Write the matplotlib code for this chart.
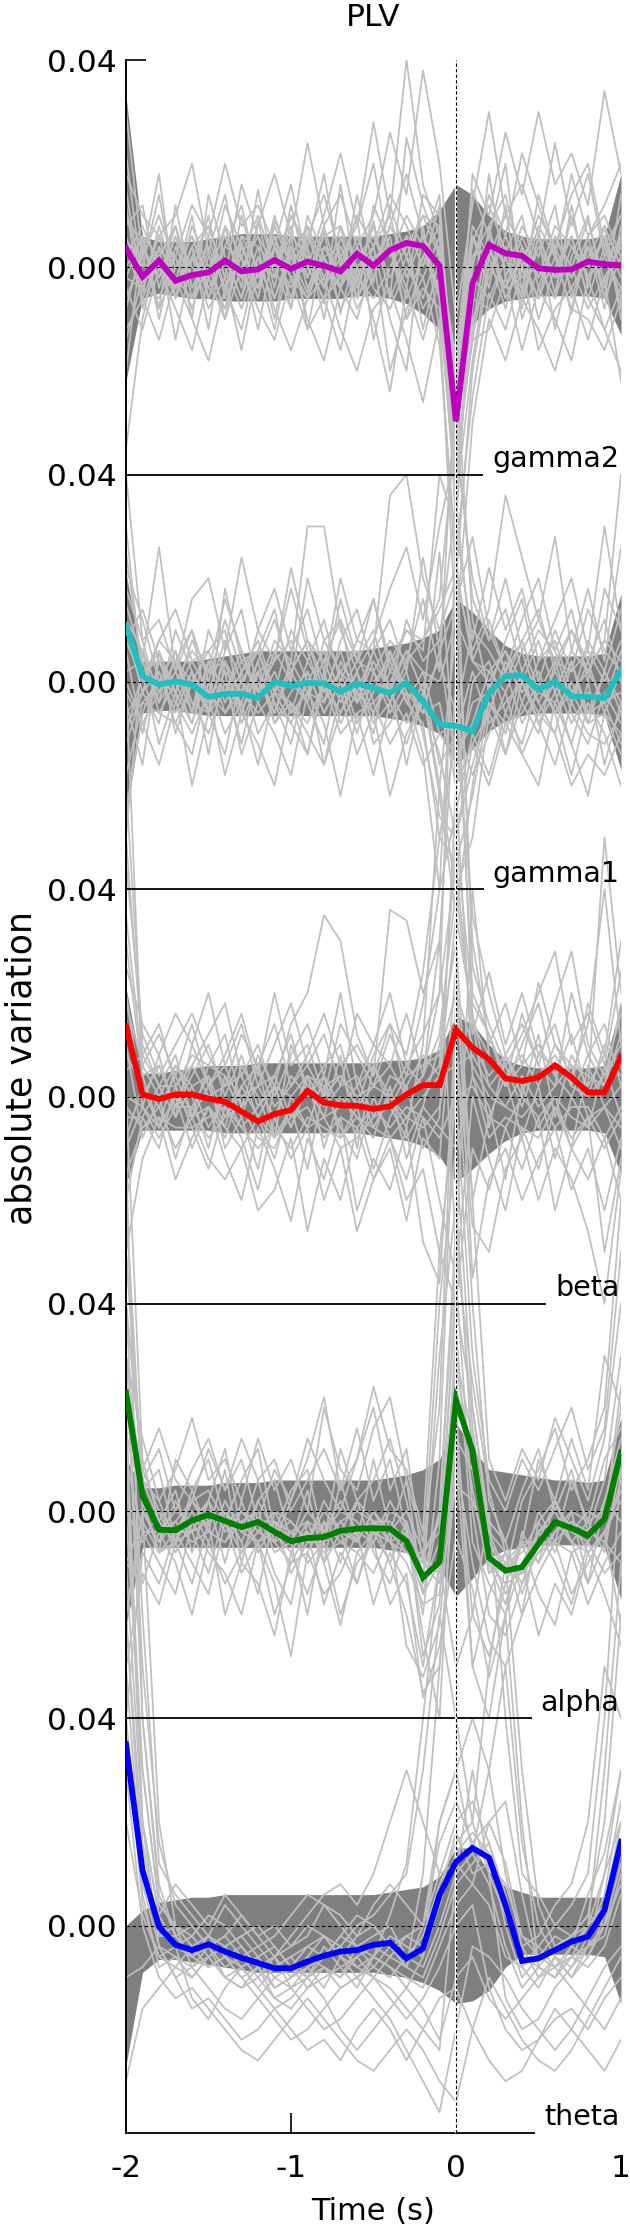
import matplotlib
matplotlib.use('Agg')
import matplotlib.pyplot as plt
import numpy as np

plt.rcParams['font.family'] = ['DejaVu Sans']

# ---------------- data (values in units of 0.001) ----------------
time = np.linspace(-2.0, 1.0, 31)
bands = ['gamma2', 'gamma1', 'beta', 'alpha', 'theta']
colors = ['#bf00bf', '#1fbfbf', '#ff0000', '#007f00', '#0000ff']
ytick_labels = ['0.04', '0.00']
xtick_values = [-2, -1, 0, 1]
xtick_labels = ['-2', '-1', '0', '1']

mean_gamma2 = [3.7, -1.8, 1.3, -2.6, -1.5, -1.0, 1.3, -0.8, -0.4, 1.4, -0.3, 1.1, 0.3, -0.8, 2.6, 0.3,
               3.3, 4.7, 4.1, 0.3, -29.7, -3.1, 4.3, 2.7, 2.2, -0.2, -0.5, -0.4, 1.1, 0.6, 0.4]
mean_gamma1 = [10.9, 1.1, -0.5, 0.1, -0.5, -2.9, -2.3, -2.3, -3.1, 0.0, -0.8, -0.2, -0.3, -1.9, -0.3, -1.2,
               -2.1, -0.2, -3.7, -8.2, -8.5, -9.5, -2.1, 1.1, 1.3, -1.5, 0.1, -2.8, -2.9, -3.1, 2.2]
mean_beta = [13.6, 0.4, -0.5, 0.4, 0.4, -0.4, -1.0, -2.9, -4.8, -3.4, -2.6, 1.1, -1.2, -1.7, -1.8, -2.4,
             -1.9, 0.4, 2.2, 2.2, 12.9, 9.4, 7.2, 3.5, 3.0, 3.7, 6.0, 3.7, 0.8, 0.8, 7.7]
mean_alpha = [22.9, 3.0, -3.6, -3.7, -1.8, -0.7, -1.9, -3.1, -2.1, -4.0, -5.8, -5.2, -5.0, -3.8, -3.4, -3.3,
              -3.4, -5.8, -12.8, -9.8, 21.4, 11.7, -9.0, -11.5, -10.8, -6.3, -2.1, -3.3, -4.7, -1.5, 11.3]
mean_theta = [35.0, 10.7, -0.2, -3.7, -4.7, -3.6, -5.0, -6.2, -7.2, -8.2, -8.2, -6.9, -5.8, -5.0, -4.7, -3.7,
              -3.3, -6.3, -4.4, 5.9, 12.3, 15.0, 13.1, 4.0, -6.8, -6.3, -4.7, -3.1, -2.1, 3.0, 16.2]

upper_gamma2 = [33, 6, 5, 5, 5, 5.5, 6, 6.5, 6.5, 6.5, 6, 6, 6, 6, 6, 6, 6.5, 7, 8, 11, 16, 14, 10, 7, 6, 5.5, 5.5, 5.5, 5.5, 6, 18]
lower_gamma2 = [-22, -6, -5, -5.5, -6, -6, -6.5, -6.5, -6.5, -6.5, -6, -6, -6, -6, -5.5, -5.5, -6, -7, -9, -12, -15, -11, -8, -6.5, -6, -5.5, -5.5, -5.5, -5.5, -6, -13]
upper_gamma1 = [21, 4, 4, 4, 4, 4.5, 5, 5.5, 6, 6, 6, 6, 6, 6, 6, 6.5, 7, 7.5, 8.5, 10, 16, 13.5, 10, 7, 5.5, 5, 5, 5, 5, 5.5, 17]
lower_gamma1 = [-26, -6, -5.5, -5.5, -6, -6.5, -6.5, -6.5, -6.5, -6.5, -6.5, -6.5, -6.5, -6.5, -6.5, -6.5, -7, -7.5, -8.5, -10, -16, -13, -9.5, -7.5, -6.5, -6, -6, -6, -6, -6.5, -17]
upper_beta = [21, 4.5, 4.5, 5, 5.5, 6, 6, 6, 6.5, 6.5, 6.5, 6.5, 6.5, 6.5, 6.5, 6.5, 7, 7, 7.5, 9, 15.5, 14, 10, 7, 6, 5.5, 5.5, 5.5, 5.5, 6, 18]
lower_beta = [-17, -6.5, -6.5, -6.5, -6.5, -6.5, -7, -7, -7, -7, -7, -7, -7, -7, -7, -7.5, -8, -8.5, -9.5, -11.5, -16.5, -14, -11, -8.5, -7, -6.5, -6.5, -6.5, -6.5, -7, -15]
upper_alpha = [10, 4.5, 4.5, 5, 5, 5, 5.5, 5.5, 5.5, 6, 6, 6, 6, 6, 6, 6, 6.5, 7, 8, 10, 17, 12, 8, 7.5, 7, 6.5, 6, 6, 5.5, 6, 18]
lower_alpha = [-22, -7, -7, -7, -7, -7, -7, -7, -7, -7, -7, -7, -7, -7, -7, -7, -7.5, -8, -9, -11, -16.5, -13, -9, -7.5, -7, -6.5, -6.5, -6.5, -6.5, -7, -17]
upper_theta = [0, 3, 4.5, 5, 5.5, 5.5, 6, 6, 6, 6, 6, 6, 6, 6, 6, 6, 6.5, 7, 7.5, 9.5, 15, 15, 10.5, 7.5, 6.5, 5.5, 5.5, 5.5, 5.5, 5.5, 14]
lower_theta = [-27, -9, -6.5, -6.5, -7, -7.5, -8, -8.5, -9, -9, -9, -9, -9, -9, -9, -9, -9.5, -10, -11, -12.5, -15, -14.5, -12.5, -8, -5.5, -5.5, -5.5, -5.5, -5.5, -6, -15]

subjects_gamma2 = [
    [15, -5, 8, -3, 10, -6, 4, 12, -2, 6, -8, 10, 2, -4, 14, 0, 8, 18, 6, -5, -25, 5, 12, 3, 10, -4, 6, 0, 9, -3, 5],
    [-20, 6, -8, 12, -4, 3, -10, 5, -6, 9, 2, -5, 7, -9, 4, -3, 12, 2, 10, 8, -40, -12, 8, -6, 2, 7, -5, 10, -2, 6, -8],
    [30, 2, 18, -6, 4, -12, 8, -4, 15, -2, 10, 3, -7, 16, -3, 9, -6, 25, 12, 3, -18, 15, 6, 20, -5, 14, 3, -9, 6, 12, 20],
    [-35, -10, 4, -14, 2, -8, -2, -16, 0, -12, 4, -10, -18, -4, -10, 2, -20, -8, -2, -15, -55, -25, -5, -12, 0, -16, -8, -4, -14, -2, -22],
    [8, 12, -4, 6, -10, 14, 2, -6, 9, -4, 12, -2, 6, 8, -6, 12, 4, -4, 14, 10, -30, -8, 18, -2, 8, 2, 12, -6, 4, 0, 6],
    [22, -3, 6, 10, 20, 3, 14, -2, 8, 18, 6, 24, 8, 14, 4, 10, 26, 14, 38, 20, -10, 12, 30, 10, 16, 6, 24, 8, 18, 2, 10],
    [-12, -6, -14, -2, -10, -18, -4, -12, 2, -8, -16, -6, -2, -12, -20, -8, -4, -14, -26, -10, -70, -30, -10, -18, -6, -12, -20, -8, -10, -16, -6],
    [5, 2, 10, 0, 6, -2, 12, 4, -4, 10, 0, 6, 14, 2, 8, 20, 2, 10, 4, 14, -35, 0, 14, 6, 22, 12, 2, 18, 6, 10, 2],
    [-8, 4, -2, 8, -6, 6, -4, 2, -12, 4, -6, 8, -4, 2, -8, -2, 6, -10, -4, -8, -45, -18, 2, -8, 4, -10, 0, 6, -6, -12, -4],
    [12, -8, 2, -6, 8, 0, -8, 6, 4, -10, 6, -12, 4, -2, 10, -14, 0, 6, -12, 2, -20, 6, -4, 12, -10, 0, -6, 12, -4, 8, -10],
    [0, 6, -10, 4, -2, 10, -6, 10, -2, 2, -4, 4, -10, 6, -4, 4, -10, -20, 8, -12, -60, -20, 0, 4, -6, 6, -12, 2, 10, -6, 14],
    [18, 10, 6, 2, 12, 6, 20, 8, 12, 4, 16, 0, 10, 22, 8, 28, 10, 40, 16, 6, -28, 18, 10, 26, 14, 30, 16, 22, 12, 34, 18],
    [-4, -12, 0, -8, -16, -2, -10, 0, -8, -14, -2, -12, -6, -16, 0, -10, -24, -4, -14, -2, -38, -14, -12, -2, -16, -4, -10, -18, -2, -12, -20],
    [10, 0, 14, -4, 4, 8, -2, 16, 6, 0, 10, 4, 18, 0, 10, 4, 14, 8, 0, 12, -50, 2, 8, 14, 0, 10, 4, 14, 20, 4, 10],
    [4, -6, 2, 8, -2, 4, -4, 6, 0, -6, 4, -2, 8, -4, 2, 6, -2, 4, 10, 2, -22, -4, 6, 0, -4, 8, 2, -2, 6, -6, 2],
    [-6, 2, -8, 0, 6, -4, 2, -6, 4, 0, -8, 6, -2, 4, -6, 0, 4, -6, 2, -4, -32, -10, -2, 6, -2, 0, -6, 4, -2, 2, -4],
    [2, 8, 0, -4, 2, 8, -2, 0, 6, -6, 2, 8, 0, -4, 6, -2, 8, 2, -2, 6, -26, 2, 4, -4, 6, -2, 4, -4, 2, 8, 0],
    [-2, -4, 4, -2, -6, 0, 6, -2, -4, 4, -2, -6, 2, 4, -2, -6, 0, 6, 4, -6, -42, -6, -8, 2, -6, 4, -2, 0, -8, -2, 4],
    [10, 4, -2, 6, 0, -2, 8, 2, 10, 0, 6, 2, -4, 8, 0, 4, 10, -2, 6, 0, -18, 8, 2, 10, 4, -2, 8, 4, 0, 6, -2],
    [-14, -2, 6, -6, 2, -4, -8, 4, -4, 6, -2, 0, -6, -2, 4, -4, -8, 0, -6, 4, -36, -14, 4, -6, 0, -6, 2, -8, 4, -4, 6],
    [6, -4, -6, 2, -8, 2, 0, -8, 2, -2, 8, -4, 2, -8, -2, 8, -6, 2, -8, -2, -48, -2, -6, 2, -8, 6, -2, 6, -6, 4, -6],
    [-2, 6, 2, -4, 4, -6, 4, 2, -6, 8, 0, -6, 4, 2, -6, 2, 4, -10, 2, 8, -24, 6, 0, -4, 2, -6, 6, -2, 4, -8, 8],
]
subjects_gamma1 = [
    [40, 8, -4, 10, 2, -6, 6, 14, -2, 8, 4, 30, 30, 10, 2, 8, 18, 26, 12, 30, 45, 20, 8, 14, 2, 10, 6, -4, 8, 2, 14],
    [-25, -6, 2, -8, -14, 0, -10, -4, -16, -2, -8, -14, 0, -10, -6, -18, -4, -12, -2, -20, -40, -30, -6, -14, 0, -8, -16, -4, -10, -12, -6],
    [15, 4, 26, 2, 10, -6, 18, 4, 6, 14, 0, 20, 8, 12, 4, 16, 2, 10, 6, 40, 30, 8, 22, 10, 18, 4, 12, 20, 6, 30, 10],
    [6, -10, 4, -4, 2, -14, 4, -8, 0, -6, 2, -4, -12, 4, -2, -10, 6, -4, -8, -30, -35, -22, -4, -10, 2, -8, -2, -12, 0, -16, -4],
    [22, 12, 0, 6, -6, 10, 2, -2, 10, 4, 18, 6, -4, 8, 14, 2, 8, 4, 16, 2, 60, 12, -2, 8, 16, 0, 10, 2, 14, 6, 2],
    [-10, 2, -12, -2, -20, -6, 2, -14, -4, -10, -18, -2, -8, -22, -6, -4, -12, -6, -16, -10, -8, -18, -10, -2, -14, -20, -4, -12, -22, -6, -14],
    [30, 0, 8, 4, 10, 0, 12, 2, 8, -2, 10, 4, 12, 0, 8, 6, 36, 40, 20, 10, 20, 6, 14, 36, 24, 12, 4, 10, 2, 8, 40],
    [-4, -16, 6, -10, 0, -6, -14, 2, -10, -4, -8, 0, -16, -6, 2, -12, -8, -2, -14, -40, -25, -10, -18, -6, -12, 0, -6, -18, -4, -10, -20],
    [10, -2, 8, 14, 4, 6, 10, -6, 4, 12, 2, 8, 0, 16, 4, 10, -2, 12, 4, 8, 35, 4, 12, 2, 8, 14, 2, 10, 4, 12, 0],
    [-30, 6, -6, 0, -8, 4, -6, 0, 6, -4, -12, 2, -6, 0, -10, 2, -6, 0, -4, 25, -20, 0, 4, -6, 2, -4, -10, 4, -8, 2, -6],
    [18, 8, 12, 2, 16, 20, 6, 24, 10, 18, 6, 14, 2, 20, 8, 16, 4, 10, 8, 16, 50, 16, 8, 20, 6, 12, 28, 6, 18, 4, 26],
    [0, -8, -16, -4, -10, -2, -18, -6, -12, -20, -4, -10, -16, -2, -14, -6, -22, -10, -4, -14, -30, -12, -20, -8, -14, -6, -10, -20, -14, -18, -10],
    [8, 14, 4, -2, 8, 2, 16, 6, -2, 4, 22, 8, 4, 12, -4, 6, 12, 2, 24, 6, 15, 28, 10, 2, 12, 20, 6, 14, 0, 18, 10],
    [-12, -2, -8, 6, -4, -10, 0, -12, 2, -8, -4, -14, 2, -8, -2, -6, 0, -16, -2, -22, -45, -20, 0, -14, -4, -10, 4, -6, -12, -2, -8],
    [2, 4, -4, 2, -6, 4, -2, 6, -4, 2, -6, 4, -2, 6, -4, 0, 4, -4, 2, -10, -14, -8, 2, -2, 6, -4, 2, -4, 4, -6, 2],
    [-6, -2, 2, -6, 2, -4, 4, -6, 2, -6, 4, -2, 4, -4, 2, -6, 2, 0, -6, -4, -20, -12, -6, 4, -2, 2, -6, 0, -6, 2, -4],
    [12, 6, -2, 4, 0, 6, -4, 2, 6, -2, 2, 8, -2, 2, 6, -4, 0, 6, -2, 4, -6, 10, 6, 0, 8, -2, 4, 2, 6, 0, 8],
    [-18, -4, 0, -2, -8, 2, 0, -4, 4, -8, -2, 2, -6, 0, -4, 4, -2, -8, 0, -16, -10, 2, -8, -4, 0, -6, 0, -8, -2, -4, -12],
    [8, 0, 6, -2, 4, -2, 8, 0, -4, 6, 0, -4, 8, 2, -2, 6, -2, 6, 2, 0, 12, 4, 0, 6, -4, 4, 8, -2, 2, 8, 4],
    [-2, -8, -2, 4, -4, -6, -2, 4, -2, 0, -6, -2, -4, 2, -8, -2, 6, -2, -6, 6, -16, -4, -2, 2, -8, -2, -4, 4, -6, -4, -2],
    [25, 2, 4, 0, 6, 2, 4, -2, 2, 4, 8, 0, 6, -2, 4, 2, -4, 4, 8, 14, 22, 4, 2, 6, 0, 8, -2, 6, 2, -4, 6],
    [-8, -4, -6, -8, 0, -2, -6, -2, -6, -2, -4, -8, 0, -6, 0, -8, -4, 2, -10, -26, -30, -16, -4, -8, -6, 0, -6, -2, -8, -6, -10],
]
subjects_beta = [
    [60, 10, 2, 8, -4, 6, 12, -2, 8, 2, 14, 20, 35, 30, 12, 4, 36, 34, 20, 30, 80, 20, 12, 2, 10, 18, 4, 12, 0, 10, 6],
    [-20, -4, -10, 2, -6, -14, -2, -8, -18, -4, -12, -6, -20, -10, -26, -16, -8, -20, -14, -30, -40, -10, -18, -6, -14, -4, -22, -10, -16, -8, -20],
    [35, 6, 12, 4, 14, 2, 8, 16, 4, 20, 6, 10, 0, 14, 8, 2, 12, 4, 18, 40, 100, 30, 10, 18, 6, 22, 10, 4, 14, 40, 10],
    [10, -8, 0, -12, -2, 4, -10, -4, 6, -8, -2, -14, 2, -6, -12, 0, -8, -16, -4, -20, -35, 0, -12, -22, -6, -14, -2, -10, -4, -30, -12],
    [45, 12, 4, 10, 16, 8, 2, 12, 6, 14, 2, 8, 16, 6, 10, 4, 14, 8, 24, 50, 70, 35, 20, 8, 14, 6, 18, 28, 10, 4, 16],
    [-8, 2, -6, 6, 0, -10, 4, -4, -14, 2, -6, 4, -10, 0, -4, -8, 2, -12, -2, 10, 30, -20, -4, 4, -8, 2, -12, 0, -6, 6, -4],
    [20, -2, 8, -4, 10, 2, -6, 6, 0, -8, 10, 2, -4, 8, -10, 6, 0, -6, 10, 60, 90, 15, -6, 8, 0, 12, -4, 8, 2, 50, 20],
    [-30, -12, -4, -16, -8, -2, -12, -20, -6, -14, -24, -8, -16, -4, -22, -12, -18, -6, -28, -36, 10, -25, -30, -14, -8, -20, -10, -16, -26, -40, -14],
    [5, 8, 14, 2, 6, 12, 18, 4, 10, 0, 8, 14, 4, 20, 2, 10, 6, 16, 4, 20, 45, 12, 24, 10, 20, 8, 14, 2, 18, 8, 30],
    [80, 4, -6, 0, -10, -2, -8, 2, -4, -12, 0, -6, 4, -8, -2, -14, -4, 2, -10, -4, 60, 4, -2, -16, 2, -6, 0, -10, 6, -2, -10],
    [15, 0, 6, -2, 4, 10, 0, 8, -2, 4, 12, 0, 6, 10, -2, 8, 14, 0, 4, 30, -30, 40, 8, 2, 16, 6, 2, 20, 8, 14, 2],
    [-15, -6, -2, -10, -4, -12, -16, -10, -22, -18, -8, -26, -12, -20, -6, -16, -10, -24, -8, -12, 25, -35, -16, -10, -20, -12, -6, -18, -10, -22, -8],
    [25, 14, 8, 16, 10, 20, 6, 14, 2, 10, 18, 6, 12, 2, 16, 10, 20, 6, 12, 20, 110, 25, 14, 6, 12, 20, 28, 10, 16, 6, 24],
    [8, 2, -2, 4, -4, 2, 6, -2, 2, -4, 4, 0, 4, -2, 2, 6, -2, 4, 6, 8, 20, 10, 4, 8, 2, 4, 8, 2, 0, 4, 10],
    [-4, -4, 2, -4, 2, -6, 0, -6, -2, 2, -6, 2, -4, -2, 2, -6, 0, -4, 0, 4, 6, 8, 2, -2, 4, -2, 2, 6, -4, -2, 2],
    [18, 6, 0, 6, 2, 4, -4, 2, 6, -2, 2, 6, 0, 4, -2, 2, 6, 0, 4, 12, 40, 14, 8, 2, 6, 10, 4, 0, 8, 2, 12],
    [-10, -2, -6, 0, -4, -2, -6, -10, -4, -8, -4, -2, -8, -4, -6, -2, -6, -2, -4, -8, 0, 2, -4, -6, 0, -4, 0, -4, -6, -2, -6],
    [30, 4, 6, -2, 6, 0, 2, 4, -4, 2, 0, 4, -2, 2, 4, -4, 4, 2, 8, 4, 35, 16, 2, 6, -2, 8, 6, 4, 2, 8, 4],
    [-2, -6, -4, -6, -6, -4, -2, -6, -10, -6, -10, -4, -6, -8, -4, -6, -8, -4, -6, -2, 15, 6, 0, -2, -4, 0, -6, -2, -2, -8, -2],
    [50, 8, 2, 2, 8, 6, 4, 0, 2, 4, -4, 4, 2, 4, 0, 2, 0, 6, 2, 6, 50, 18, 12, 4, 8, 2, 10, 6, 4, 2, 18],
    [0, -2, -8, -2, -2, -8, -4, -2, -8, -10, -2, -6, -4, -10, -8, -4, -2, -8, -2, -6, -10, 4, -8, -4, -6, -8, -2, -8, -4, -10, -4],
]
subjects_alpha = [
    [80, 10, -2, 4, -8, 2, 12, -4, 6, -6, 2, 10, 22, 4, 16, 2, 10, -4, -20, 10, 90, 40, 2, -6, 4, 12, 0, 8, -4, 6, 30],
    [-40, -8, -14, -4, -10, -16, -2, -12, -6, -20, -10, -4, -18, -8, -14, -2, -10, -20, -35, -30, 10, -10, -25, -30, -20, -12, -6, -16, -10, -4, -22],
    [50, 6, 12, 0, 8, 14, 4, 10, -2, 8, 2, 14, 6, 0, 10, 20, 4, 12, -10, 40, 70, 20, -4, -12, 2, 8, 16, 4, 10, 20, 60],
    [10, -4, -10, -16, -2, -8, -12, -20, -6, -14, -28, -8, -16, -12, -4, -18, -8, -14, -30, -10, 45, 0, -20, -24, -14, -4, -10, -18, -6, -12, -8],
    [30, 14, 2, 8, 18, 6, 10, 2, 14, 4, 10, 0, 20, 8, 4, 16, 22, 6, -6, 20, 100, 60, 10, 2, 12, 6, 18, 10, 2, 14, 40],
    [-20, 0, -6, 2, -4, -12, 0, -6, -16, 0, -6, -20, -2, -10, 2, -8, -14, -4, -24, -40, 20, -30, -16, -8, -20, -2, -8, 0, -14, -6, -10],
    [60, 4, 8, -6, 4, 10, -2, 6, 12, -4, 4, 8, -6, 12, 2, 6, 14, 2, -14, 30, 60, 10, -10, -18, -6, 10, 2, 14, 4, 30, 20],
    [-10, -14, -4, -10, -20, -6, -14, -8, -2, -12, -18, -2, -10, -22, -8, -12, -4, -26, -32, -22, 15, -20, -28, -14, -6, -16, -22, -8, -18, -10, -4],
    [40, 8, 16, 6, 2, 12, 4, 14, 6, 10, 0, 6, 12, 4, 10, 24, 12, 8, -4, 50, 80, 30, 6, 0, 10, 4, 12, 20, 8, 16, 50],
    [0, -6, 0, -8, -2, 2, -10, 2, -8, -2, -12, -6, 2, -4, -14, -4, -10, -2, -28, -18, 35, -6, -14, -20, -4, -10, 2, -6, -14, 2, -2],
    [20, 2, -8, 10, 4, -4, 8, -10, 2, 6, -6, 4, -10, 6, -6, 10, -4, 6, -16, 0, 50, 25, 4, -8, -12, 0, -6, 6, -2, 10, 16],
    [-30, -12, -18, -6, -14, -2, -20, -10, -14, -24, -8, -16, -6, -20, -10, -6, -18, -12, -36, -26, -5, -15, -32, -20, -10, -24, -14, -20, -8, -16, -26],
    [30, 4, -4, -2, 2, -2, 0, -6, 2, -4, -8, -2, -4, 0, -2, -6, 2, -4, -14, -6, 30, 14, -6, -10, -8, -2, 2, -4, -6, 2, 14],
    [-10, -2, -8, -6, -4, 2, -4, -2, -6, -2, -4, -10, -6, -2, -6, 0, -6, -8, -10, -14, 14, 8, -10, -14, -12, -8, -4, -2, -8, -4, 4],
    [40, 8, 0, -4, 2, 4, -2, 0, -4, 0, -2, -6, 0, -4, 2, -2, -4, 0, -8, -4, 40, 20, -4, -8, -12, -4, 0, -6, -2, 0, 20],
    [0, 0, -6, -2, -6, -4, -6, -2, 0, -8, -6, -4, -8, -6, -4, -2, -2, -6, -16, -10, 25, 4, -12, -8, -14, -8, -6, -2, -4, -6, 6],
    [50, 6, -2, -6, 0, -6, 2, -4, -2, -2, -6, 0, -4, 2, -4, -6, 0, -2, -12, 0, 55, 16, -6, -12, -6, -6, 2, -4, 0, -2, 24],
    [-20, -4, -4, 0, -2, 0, -2, -8, -4, -6, -10, -8, -2, -6, -8, -4, -6, -10, -18, -16, 5, 2, -8, -16, -10, -4, -2, -6, -8, -4, 2],
    [15, 2, -8, -4, -4, -2, 0, -4, -6, -4, -2, -6, -6, -2, 0, -2, -6, -4, -10, -12, 28, 10, -12, -10, -6, -10, -4, 0, -2, -8, 10],
    [25, 6, 2, -6, 2, -4, -6, 0, -2, -6, -4, -2, -10, -4, -6, 0, -4, -8, -8, -2, 18, 20, -2, -6, -16, -6, -6, -8, -6, 0, 8],
]
subjects_theta = [
    [150, 40, 8, -2, -6, -4, -10, -8, -6, -12, -10, -6, -2, -4, 0, 2, 6, 10, 30, 60, 40, 20, 50, 70, 30, 4, -4, -2, 2, 20, 60],
    [100, 20, -4, -10, -8, -12, -16, -18, -14, -10, -12, -16, -20, -18, -14, -10, -12, -16, -20, -24, 10, 30, 10, -14, -20, -18, -12, -8, -4, 0, 8],
    [60, 10, -2, 0, -4, -8, -6, -10, -14, -18, -22, -20, -16, -12, -10, -14, -18, -24, -30, -36, -20, -4, -6, -10, -16, -20, -24, -20, -14, -8, -4],
    [120, 60, 12, 6, 2, -2, 4, 0, -4, -2, 2, 6, 4, 0, -4, -6, 2, 12, 40, 70, 50, 60, 80, 40, 10, 6, 0, 4, 10, 40, 90],
    [30, 0, -10, -14, -12, -16, -20, -24, -26, -22, -18, -14, -18, -22, -26, -28, -24, -20, -24, -30, -34, -20, -10, -16, -22, -26, -28, -24, -18, -12, -6],
    [80, 30, 4, 0, -2, 2, 0, -4, -8, -6, -2, 2, 6, 8, 4, 10, 20, 30, 20, 10, 12, 8, 20, 24, 6, -8, -10, -4, 6, 14, 30],
    [-30, -16, -12, -8, -10, -6, -10, -12, -8, -14, -16, -12, -8, -10, -6, -10, -14, -18, -14, -8, 0, 4, -12, -20, -24, -22, -18, -16, -20, -14, -10],
    [140, 80, 20, 0, -8, -6, -4, -2, 0, -4, -8, -10, -6, -2, 2, 0, -4, -8, 10, 50, 90, 50, 40, 60, 20, -8, -10, -6, 0, 30, 70],
    [40, 4, -6, -4, -14, -18, -12, -8, -12, -16, -14, -10, -14, -20, -24, -20, -16, -12, -16, -22, -10, -6, -14, -18, -14, -10, -8, -12, -16, -20, -14],
    [90, 20, 2, 8, 4, 0, 6, 2, -2, 0, -4, -2, 4, 2, -2, 4, 8, 4, 0, 20, 30, 40, 30, 10, -4, -2, 4, 8, 20, 50, 40],
    [-10, -8, -4, -10, -16, -14, -18, -22, -20, -16, -20, -24, -22, -26, -20, -16, -20, -26, -20, -14, -12, -20, -26, -30, -28, -22, -16, -20, -24, -28, -22],
    [110, 50, 16, 4, 0, -4, -2, 2, -2, -6, -4, 0, -2, -6, -10, -6, -8, -12, -6, 20, 30, 14, 30, 50, 16, 0, -6, -10, -4, 10, 20],
    [70, 20, 2, -4, -2, -6, -4, -8, -6, -10, -8, -12, -10, -8, -6, -4, -6, -2, 0, 10, 20, 24, 16, 6, -6, -8, -4, -2, 0, 4, 20],
    [50, 8, -4, -6, -8, -4, -8, -6, -10, -6, -12, -8, -6, -4, -8, -6, -2, -4, -6, 4, 14, 18, 14, 0, -10, -6, -8, -4, -6, 2, 14],
    [90, 30, 4, 0, -4, -2, -6, -4, -8, -12, -10, -6, -8, -10, -4, -2, 0, -6, -2, 8, 16, 20, 10, 2, -4, -10, -6, -8, -2, 6, 24],
    [20, 2, -6, -8, -4, -8, -6, -10, -8, -6, -10, -8, -12, -6, -8, -10, -6, -8, -10, -2, 8, 12, 16, 4, -8, -4, -8, -6, -4, -2, 10],
    [110, 40, 6, -2, 0, -4, -2, -6, -4, -8, -6, -4, -2, -6, -2, 0, -4, -8, 0, 16, 24, 16, 20, 12, -2, -6, -2, -4, 0, 10, 30],
    [40, 6, -8, -6, -10, -6, -10, -12, -10, -14, -12, -10, -8, -12, -10, -8, -10, -6, -8, 0, 10, 14, 8, -4, -12, -8, -10, -6, -8, -4, 6],
    [30, 12, 0, -4, -6, -2, -4, -2, -6, -4, -8, -4, -6, -2, -4, -8, -4, -2, -4, 6, 18, 10, 12, 8, -2, -4, 0, -2, 2, 0, 16],
    [60, 16, -2, -2, -6, -8, -6, -8, -12, -8, -6, -10, -4, -8, -12, -6, -8, -10, -12, -4, 4, 8, 4, -6, -8, -12, -6, -10, -6, 0, 12],
]

means = [mean_gamma2, mean_gamma1, mean_beta, mean_alpha, mean_theta]
uppers = [upper_gamma2, upper_gamma1, upper_beta, upper_alpha, upper_theta]
lowers = [lower_gamma2, lower_gamma1, lower_beta, lower_alpha, lower_theta]
subjects = [subjects_gamma2, subjects_gamma1, subjects_beta, subjects_alpha, subjects_theta]

unit = 0.001
panel_step = 0.08
half = 0.04

# ---------------- figure ----------------
W, H = 630, 2237
fig = plt.figure(figsize=(W / 100, H / 100), dpi=100)
ax_left, ax_right = 126 / W, 621 / W
ax_top, ax_bottom = 1 - 60 / H, 1 - 2133 / H
ax = fig.add_axes([ax_left, ax_bottom, ax_right - ax_left, ax_top - ax_bottom])
ax.set_xlim(-2, 1)
ax.set_ylim(-panel_step * (len(bands) - 1) - half, half)

ytick_pos = []
ytick_txt = []
for k, name in enumerate(bands):
    off = -panel_step * k
    up = off + np.array(uppers[k]) * unit
    lo = off + np.array(lowers[k]) * unit
    ax.fill_between(time, lo, up, color='#7f7f7f', lw=0, zorder=1)
    for s in subjects[k]:
        ax.plot(time, off + np.array(s) * unit, color='#bfbfbf', lw=1.25, zorder=2)
    ax.axhline(off, color='black', lw=0.8, ls=(0, (3, 2.5)), zorder=3)
    ax.plot(time, off + np.array(means[k]) * unit, color=colors[k], lw=4.2, zorder=5,
            solid_joinstyle='miter')
    ytick_pos += [off + half, off]
    ytick_txt += ytick_labels

ax.axvline(0, color='white', lw=1.6, zorder=3.5)
ax.axvline(0, color='black', lw=0.8, ls=(0, (3, 2)), zorder=3.6)

for sp in ['top', 'right', 'bottom']:
    ax.spines[sp].set_visible(False)
ax.spines['left'].set_linewidth(1.4)

ax.set_yticks(ytick_pos)
ax.set_yticklabels(ytick_txt)
ax.tick_params(axis='y', direction='in', length=14.5, width=1.2, pad=7, labelsize=22.5)
top_pos = max(ytick_pos)
for pos, tk in zip(ytick_pos, ax.yaxis.get_major_ticks()):
    tk.tick1line.set_visible(pos == top_pos)

ax.set_xticks(xtick_values)
ax.set_xticklabels(xtick_labels)
ax.tick_params(axis='x', direction='in', length=14.5, width=1.2, pad=15, labelsize=22.5)
for v, tk in zip(xtick_values, ax.xaxis.get_major_ticks()):
    tk.tick1line.set_visible(v not in (min(xtick_values), max(xtick_values)))

# band labels with their separator lines
labels = []
for k, name in enumerate(bands):
    level = -panel_step * k - half
    t = ax.annotate(name, xy=(1, level), xycoords='data', xytext=(-1, 5.5),
                    textcoords='offset points', ha='right', va='baseline',
                    fontsize=20.5, annotation_clip=False, zorder=6)
    labels.append((t, level))

fig.text((ax_left + ax_right) / 2, 1 - 18 / H, 'PLV', ha='center', va='center', fontsize=22.5)
fig.text((ax_left + ax_right) / 2, 1 - 2212 / H, 'Time (s)', ha='center', va='center', fontsize=22)
fig.text(21.5 / W, 1 - 1068 / H, 'absolute variation', ha='center', va='center',
         rotation=90, fontsize=25)

fig.canvas.draw()
inv = ax.transData.inverted()
for t, level in labels:
    bb = t.get_window_extent()
    x_end = inv.transform((bb.x0 - 9, 0))[0]
    ax.plot([-2, x_end], [level, level], color='black', lw=1.3, clip_on=False, zorder=2.5,
            solid_capstyle='butt')

fig.savefig('out.png', dpi=100)
